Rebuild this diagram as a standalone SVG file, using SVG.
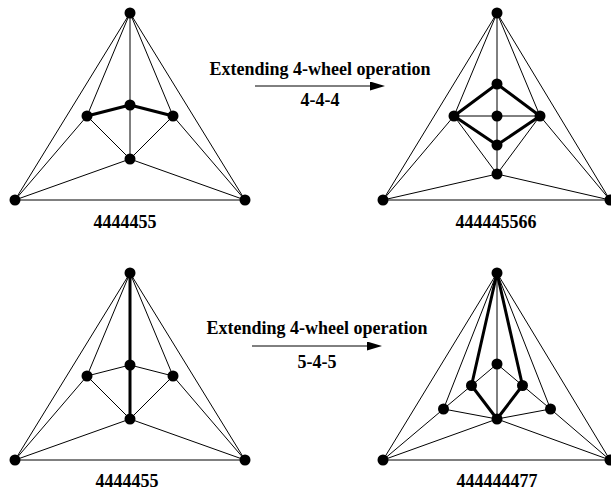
<svg xmlns="http://www.w3.org/2000/svg" width="611" height="491" viewBox="0 0 611 491">
<style>
.e{stroke:#000;stroke-width:1;fill:none}
.t{stroke:#000;stroke-width:3;fill:none;stroke-linecap:round}
.n{fill:#000}
text{font-family:"Liberation Serif","Times New Roman",serif;font-weight:bold;font-size:18px;fill:#000;text-anchor:middle}
</style>
<defs>
<marker id="ah" markerUnits="userSpaceOnUse" markerWidth="16" markerHeight="10" refX="0" refY="4.5" orient="auto">
<path d="M0,0 L15,4.5 L0,9 Z" fill="#000"/>
</marker>
</defs>
<rect width="611" height="491" fill="#fff"/>

<!-- Graph 1 -->
<g id="graph1">
<g id="g1-edges">
<line class="e" x1="130" y1="13" x2="15" y2="200"/>
<line class="e" x1="130" y1="13" x2="245" y2="200"/>
<line class="e" x1="15" y1="200" x2="245" y2="200"/>
<line class="e" x1="130" y1="13" x2="87" y2="116"/>
<line class="e" x1="130" y1="13" x2="130" y2="105"/>
<line class="e" x1="130" y1="13" x2="173" y2="116"/>
<line class="e" x1="130" y1="105" x2="130" y2="159"/>
<line class="e" x1="87" y1="116" x2="130" y2="159"/>
<line class="e" x1="173" y1="116" x2="130" y2="159"/>
<line class="e" x1="15" y1="200" x2="87" y2="116"/>
<line class="e" x1="245" y1="200" x2="173" y2="116"/>
<line class="e" x1="15" y1="200" x2="130" y2="159"/>
<line class="e" x1="245" y1="200" x2="130" y2="159"/>
<line class="t" x1="87" y1="116" x2="130" y2="105"/>
<line class="t" x1="130" y1="105" x2="173" y2="116"/>
</g>
<g id="g1-T"><circle class="n" cx="130" cy="13" r="5.5"/></g>
<g id="g1-L"><circle class="n" cx="87" cy="116" r="5.5"/></g>
<g id="g1-C"><circle class="n" cx="130" cy="105" r="5.5"/></g>
<g id="g1-R"><circle class="n" cx="173" cy="116" r="5.5"/></g>
<g id="g1-B"><circle class="n" cx="130" cy="159" r="5.5"/></g>
<g id="g1-BL"><circle class="n" cx="15" cy="200" r="5.5"/></g>
<g id="g1-BR"><circle class="n" cx="245" cy="200" r="5.5"/></g>
<text x="125" y="228">4444455</text>
</g>

<!-- Graph 2 -->
<g id="graph2">
<g id="g2-edges">
<line class="e" x1="497" y1="13" x2="383" y2="200"/>
<line class="e" x1="497" y1="13" x2="610" y2="200"/>
<line class="e" x1="383" y1="200" x2="610" y2="200"/>
<line class="e" x1="497" y1="13" x2="454" y2="116"/>
<line class="e" x1="497" y1="13" x2="497" y2="84"/>
<line class="e" x1="497" y1="13" x2="540" y2="116"/>
<line class="e" x1="454" y1="116" x2="540" y2="116"/>
<line class="e" x1="497" y1="84" x2="497" y2="174"/>
<line class="e" x1="454" y1="116" x2="497" y2="174"/>
<line class="e" x1="540" y1="116" x2="497" y2="174"/>
<line class="e" x1="383" y1="200" x2="454" y2="116"/>
<line class="e" x1="610" y1="200" x2="540" y2="116"/>
<line class="e" x1="383" y1="200" x2="497" y2="174"/>
<line class="e" x1="610" y1="200" x2="497" y2="174"/>
<path class="t" d="M454,116 L497,84 L540,116 L497,145 Z" stroke-linejoin="round"/>
</g>
<g id="g2-T"><circle class="n" cx="497" cy="13" r="5.5"/></g>
<g id="g2-IT"><circle class="n" cx="497" cy="84" r="5.5"/></g>
<g id="g2-L"><circle class="n" cx="454" cy="116" r="5.5"/></g>
<g id="g2-C"><circle class="n" cx="497" cy="116" r="5.5"/></g>
<g id="g2-R"><circle class="n" cx="540" cy="116" r="5.5"/></g>
<g id="g2-IB"><circle class="n" cx="497" cy="145" r="5.5"/></g>
<g id="g2-B"><circle class="n" cx="497" cy="174" r="5.5"/></g>
<g id="g2-BL"><circle class="n" cx="383" cy="200" r="5.5"/></g>
<g id="g2-BR"><circle class="n" cx="610" cy="200" r="5.5"/></g>
<text x="496" y="228">444445566</text>
</g>

<!-- Graph 3 -->
<g id="graph3">
<g id="g3-edges">
<line class="e" x1="130" y1="273" x2="15" y2="460"/>
<line class="e" x1="130" y1="273" x2="245" y2="460"/>
<line class="e" x1="15" y1="460" x2="245" y2="460"/>
<line class="e" x1="130" y1="273" x2="87" y2="376"/>
<line class="e" x1="130" y1="273" x2="173" y2="376"/>
<line class="e" x1="87" y1="376" x2="130" y2="365"/>
<line class="e" x1="130" y1="365" x2="173" y2="376"/>
<line class="e" x1="87" y1="376" x2="130" y2="419"/>
<line class="e" x1="173" y1="376" x2="130" y2="419"/>
<line class="e" x1="15" y1="460" x2="87" y2="376"/>
<line class="e" x1="245" y1="460" x2="173" y2="376"/>
<line class="e" x1="15" y1="460" x2="130" y2="419"/>
<line class="e" x1="245" y1="460" x2="130" y2="419"/>
<line class="t" x1="130" y1="273" x2="130" y2="419"/>
</g>
<g id="g3-T"><circle class="n" cx="130" cy="273" r="5.5"/></g>
<g id="g3-L"><circle class="n" cx="87" cy="376" r="5.5"/></g>
<g id="g3-C"><circle class="n" cx="130" cy="365" r="5.5"/></g>
<g id="g3-R"><circle class="n" cx="173" cy="376" r="5.5"/></g>
<g id="g3-B"><circle class="n" cx="130" cy="419" r="5.5"/></g>
<g id="g3-BL"><circle class="n" cx="15" cy="460" r="5.5"/></g>
<g id="g3-BR"><circle class="n" cx="245" cy="460" r="5.5"/></g>
<text x="127" y="487">4444455</text>
</g>

<!-- Graph 4 -->
<g id="graph4">
<g id="g4-edges">
<line class="e" x1="497" y1="273" x2="383" y2="460"/>
<line class="e" x1="497" y1="273" x2="610" y2="460"/>
<line class="e" x1="383" y1="460" x2="610" y2="460"/>
<line class="e" x1="497" y1="273" x2="443.5" y2="409"/>
<line class="e" x1="497" y1="273" x2="550.5" y2="409"/>
<line class="e" x1="497" y1="273" x2="497" y2="419"/>
<line class="e" x1="497" y1="364" x2="471.5" y2="385.5"/>
<line class="e" x1="497" y1="364" x2="522.5" y2="385.5"/>
<line class="e" x1="443.5" y1="409" x2="471.5" y2="385.5"/>
<line class="e" x1="550.5" y1="409" x2="522.5" y2="385.5"/>
<line class="e" x1="443.5" y1="409" x2="497" y2="419"/>
<line class="e" x1="550.5" y1="409" x2="497" y2="419"/>
<line class="e" x1="383" y1="460" x2="443.5" y2="409"/>
<line class="e" x1="610" y1="460" x2="550.5" y2="409"/>
<line class="e" x1="383" y1="460" x2="497" y2="419"/>
<line class="e" x1="610" y1="460" x2="497" y2="419"/>
<path class="t" d="M497,273 L471.5,385.5 L497,419 L522.5,385.5 Z" stroke-linejoin="round"/>
</g>
<g id="g4-T"><circle class="n" cx="497" cy="273" r="5.5"/></g>
<g id="g4-CT"><circle class="n" cx="497" cy="364" r="5.5"/></g>
<g id="g4-L2"><circle class="n" cx="471.5" cy="385.5" r="5.5"/></g>
<g id="g4-R2"><circle class="n" cx="522.5" cy="385.5" r="5.5"/></g>
<g id="g4-L1"><circle class="n" cx="443.5" cy="409" r="5.5"/></g>
<g id="g4-R1"><circle class="n" cx="550.5" cy="409" r="5.5"/></g>
<g id="g4-B"><circle class="n" cx="497" cy="419" r="5.5"/></g>
<g id="g4-BL"><circle class="n" cx="383" cy="460" r="5.5"/></g>
<g id="g4-BR"><circle class="n" cx="610" cy="460" r="5.5"/></g>
<text x="497" y="487">444444477</text>
</g>

<!-- Operation arrows -->
<g id="arrows">
<line class="e" x1="255" y1="86" x2="370" y2="86" marker-end="url(#ah)"/>
<line class="e" x1="252" y1="346" x2="367" y2="346" marker-end="url(#ah)"/>
</g>
<g id="arrow-labels">
<text x="320" y="75">Extending 4-wheel operation</text>
<text x="320" y="106">4-4-4</text>
<text x="317" y="334">Extending 4-wheel operation</text>
<text x="317" y="368">5-4-5</text>
</g>
</svg>
